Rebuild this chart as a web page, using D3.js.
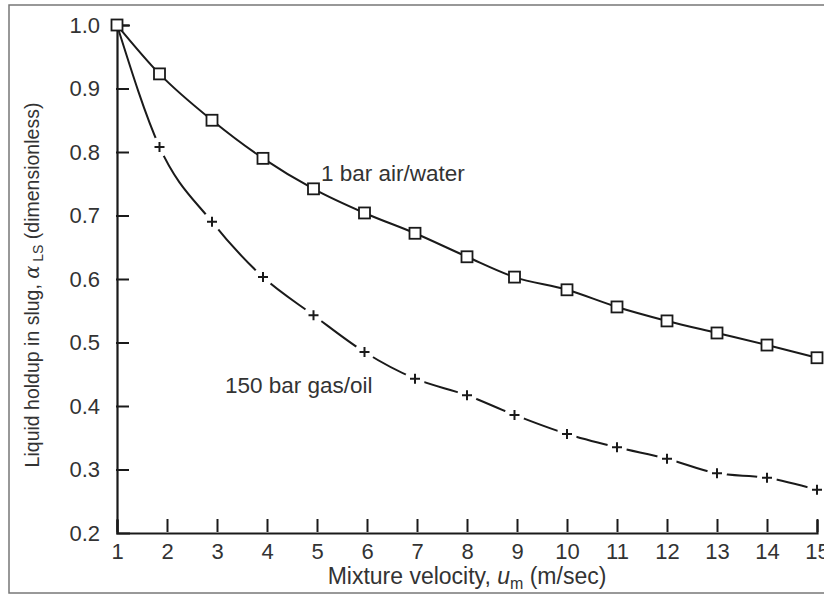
<!DOCTYPE html>
<html>
<head>
<meta charset="utf-8">
<script src="https://cdn.jsdelivr.net/npm/d3@7"></script>
<style>
  body { margin: 0; background: #fff; }
  text { font-family: "Liberation Sans", Arial, sans-serif; fill: #333; }
</style>
</head>
<body>
<div id="chart"></div>
<script>
// mixture velocity (m/sec) where points were plotted
let velocity = [1, 1.85, 2.9, 3.92, 4.93, 5.95, 6.96, 8, 8.95, 10, 11, 12, 13, 14, 15];
// liquid holdup, 1 bar air/water (squares)
let airWater = [1.0, 0.923, 0.85, 0.79, 0.742, 0.704, 0.672, 0.635, 0.603, 0.583, 0.556, 0.534, 0.515, 0.496, 0.476];
// liquid holdup, 150 bar gas/oil (plus signs)
let gasOil = [1.0, 0.808, 0.69, 0.603, 0.543, 0.485, 0.443, 0.417, 0.386, 0.356, 0.335, 0.317, 0.294, 0.287, 0.268];
let xTicks = [1, 2, 3, 4, 5, 6, 7, 8, 9, 10, 11, 12, 13, 14, 15];
let yTicks = [0.3, 0.4, 0.5, 0.6, 0.7, 0.8, 0.9, 1.0];
let yLabels = [0.2, 0.3, 0.4, 0.5, 0.6, 0.7, 0.8, 0.9, 1.0];

let width = 824, height = 595;
let plot = { left: 117, right: 817, top: 25, bottom: 533 };
let tickFont = 22;

let svg = d3.select("#chart").append("svg")
  .attr("width", width)
  .attr("height", height);

// outer frame (right side runs off the picture)
svg.append("rect")
  .attr("x", 9).attr("y", 5)
  .attr("width", 830).attr("height", 588)
  .attr("fill", "none")
  .attr("stroke", "#777")
  .attr("stroke-width", 1.5);

let x = d3.scaleLinear().domain([1, 15]).range([plot.left, plot.right]);
let y = d3.scaleLinear().domain([0.2, 1.0]).range([plot.bottom, plot.top]);

// axes, ticks pointing inward
let xAxis = svg.append("g")
  .attr("transform", `translate(0,${plot.bottom})`)
  .call(d3.axisBottom(x).tickValues(xTicks).tickSize(-13).tickPadding(5).tickFormat(d3.format("d")));
let yAxis = svg.append("g")
  .attr("transform", `translate(${plot.left},0)`)
  .call(d3.axisLeft(y).tickValues(yLabels).tickSize(-13).tickPadding(17).tickFormat(d3.format(".1f")));
// no inner tick at the 0.2 corner
yAxis.selectAll(".tick line").filter((d) => !yTicks.includes(d)).remove();

[xAxis, yAxis].forEach(function (g) {
  g.select(".domain").attr("stroke", "#1a1a1a").attr("stroke-width", 2.2);
  g.selectAll(".tick line").attr("stroke", "#1a1a1a").attr("stroke-width", 2);
  g.selectAll(".tick text")
    .attr("font-size", tickFont)
    .attr("font-family", "Liberation Sans, Arial, sans-serif")
    .attr("fill", "#333");
});
xAxis.selectAll(".tick text").attr("dy", "0.95em");
xAxis.selectAll(".tick line").attr("transform", "translate(0,-1)");
yAxis.selectAll(".tick line").attr("transform", "translate(-1,0)");

let line = d3.line()
  .x((d, i) => x(velocity[i]))
  .y((d) => y(d))
  .curve(d3.curveMonotoneX);

// 1 bar air/water: solid line with square markers
svg.append("path")
  .datum(airWater)
  .attr("d", line)
  .attr("fill", "none")
  .attr("stroke", "#1a1a1a")
  .attr("stroke-width", 2);

// 150 bar gas/oil: line broken around each plus marker
svg.append("path")
  .datum(gasOil)
  .attr("d", line)
  .attr("fill", "none")
  .attr("stroke", "#1a1a1a")
  .attr("stroke-width", 2);

svg.append("g")
  .selectAll("circle")
  .data(gasOil.slice(1))
  .enter()
  .append("circle")
  .attr("cx", (d, i) => x(velocity[i + 1]))
  .attr("cy", (d) => y(d))
  .attr("r", 10)
  .attr("fill", "#fff");

let plusSize = 5;
svg.append("g")
  .selectAll("path")
  .data(gasOil.slice(1))
  .enter()
  .append("path")
  .attr("d", (d, i) => {
    let cx = x(velocity[i + 1]), cy = y(d);
    return `M${cx - plusSize},${cy}H${cx + plusSize}M${cx},${cy - plusSize}V${cy + plusSize}`;
  })
  .attr("stroke", "#1a1a1a")
  .attr("stroke-width", 2);

let sq = 11;
svg.append("g")
  .selectAll("rect")
  .data(airWater)
  .enter()
  .append("rect")
  .attr("x", (d, i) => x(velocity[i]) - sq / 2)
  .attr("y", (d) => y(d) - sq / 2)
  .attr("width", sq)
  .attr("height", sq)
  .attr("fill", "#fff")
  .attr("stroke", "#1a1a1a")
  .attr("stroke-width", 1.8);

// curve labels
svg.append("text")
  .attr("x", 321).attr("y", 181)
  .attr("font-size", 22.5)
  .text("1 bar air/water");
svg.append("text")
  .attr("x", 225).attr("y", 393)
  .attr("font-size", 22.5)
  .text("150 bar gas/oil");

// x axis title
let xTitle = svg.append("text")
  .attr("x", (plot.left + plot.right) / 2)
  .attr("y", 584)
  .attr("text-anchor", "middle")
  .attr("font-size", 23);
xTitle.append("tspan").text("Mixture velocity, ");
xTitle.append("tspan").attr("font-style", "italic").text("u");
xTitle.append("tspan").attr("font-size", 16).attr("dy", 5).text("m");
xTitle.append("tspan").attr("dy", -5).text(" (m/sec)");

// y axis title
let yTitle = svg.append("text")
  .attr("transform", "translate(39,285) rotate(-90)")
  .attr("text-anchor", "middle")
  .attr("font-size", 19.5);
yTitle.append("tspan").text("Liquid holdup in slug, ");
yTitle.append("tspan").attr("font-style", "italic").attr("font-family", "DejaVu Serif, serif").text("α");
yTitle.append("tspan").attr("font-size", 14).attr("dy", 4).text(" LS");
yTitle.append("tspan").attr("dy", -4).text(" (dimensionless)");
</script>
</body>
</html>
